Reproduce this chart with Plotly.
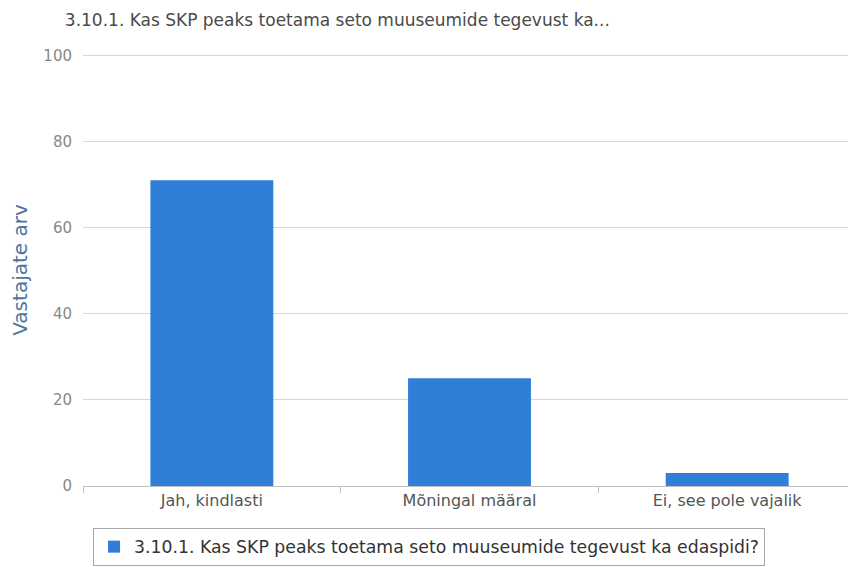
import plotly.graph_objects as go

categories = ["Jah, kindlasti", "Mõningal määral", "Ei, see pole vajalik"]
values = [71, 25, 3]
series_name = "3.10.1. Kas SKP peaks toetama seto muuseumide tegevust ka edaspidi?"
title_text = "3.10.1. Kas SKP peaks toetama seto muuseumide tegevust ka..."
y_title = "Vastajate arv"
y_ticks = [0, 20, 40, 60, 80, 100]

fig = go.Figure()
fig.add_trace(go.Bar(
    x=categories, y=values, name=series_name,
    marker=dict(color="#2f7ed8", line=dict(width=0)),
    width=0.477, showlegend=True,
))

# page body has an 8px default margin, so the figure is sized to fit the window
fig.update_layout(
    width=848, height=559,
    paper_bgcolor="white", plot_bgcolor="white",
    margin=dict(l=75, r=0, t=46, b=81, autoexpand=False),
    font=dict(family="DejaVu Sans, sans-serif", color="#666666"),
    title=dict(text=title_text, x=0.067, xanchor="left", y=0.978, yanchor="middle",
               pad=dict(l=0, r=0, t=0, b=0),
               font=dict(size=17, color="#4a4a4a", family="DejaVu Sans, sans-serif")),
    showlegend=True,
    legend=dict(orientation="h", x=0.013, xanchor="left", y=-0.097, yanchor="top",
                bordercolor="#a8a8a8", borderwidth=1, bgcolor="white",
                font=dict(size=17.3, color="#333333")),
)
fig.update_xaxes(
    type="category", showline=True, linecolor="#c0c0c0", linewidth=1,
    ticks="outside", tickson="boundaries", ticklen=6, tickcolor="#c0c0c0",
    tickfont=dict(size=16, color="#555555"), showgrid=False, automargin=False,
)
fig.update_yaxes(
    range=[0, 100.3], tickvals=y_ticks, showgrid=True, gridcolor="#d8d8d8",
    zeroline=False, ticks="", ticklabelstandoff=10, automargin=False,
    tickfont=dict(size=15, color="#888888"),
    title=dict(text=y_title, font=dict(size=20, color="#4d759e"), standoff=13),
)

fig.write_html("out.html")
